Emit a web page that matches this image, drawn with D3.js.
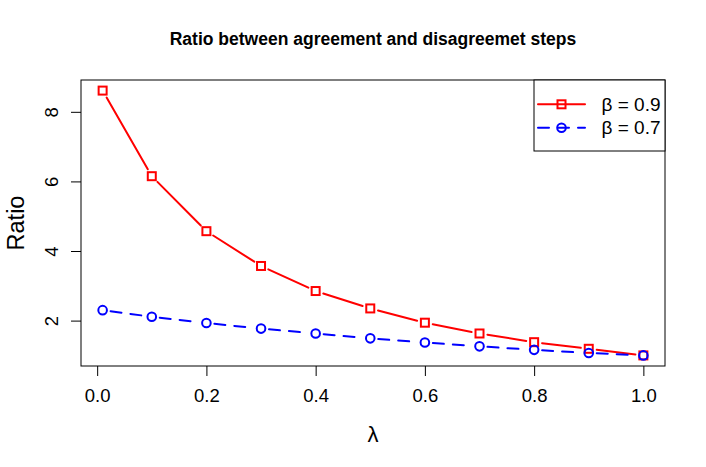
<!DOCTYPE html>
<html>
<head>
<meta charset="utf-8">
<script src="https://cdn.jsdelivr.net/npm/d3@7"></script>
<style>
  body { margin: 0; background: #fff; }
  svg text { font-family: "Liberation Sans", Arial, Helvetica, sans-serif; }
</style>
</head>
<body>
<div id="chart"></div>
<script>
// values
const lambda = [0.01, 0.1, 0.2, 0.3, 0.4, 0.5, 0.6, 0.7, 0.8, 0.9, 1.0]
const beta09 = [8.61, 6.15, 4.57, 3.57, 2.85, 2.35, 1.94, 1.63, 1.38, 1.19, 1.0]
const beta07 = [2.30, 2.11, 1.93, 1.77, 1.63, 1.49, 1.37, 1.26, 1.16, 1.07, 1.0]
const xTicks = [0, 0.2, 0.4, 0.6, 0.8, 1.0]
const yTicks = [2, 4, 6, 8]
const seriesNames = ["β = 0.9", "β = 0.7"]

const WIDTH = 706
const HEIGHT = 467
const MARGIN = { LEFT: 81, RIGHT: 41, TOP: 80, BOTTOM: 101 }
const TICK_FONT = "18.5px"

const svg = d3.select("#chart").append("svg")
  .attr("width", WIDTH)
  .attr("height", HEIGHT)

// R style 4% padding on the data range
function padded(vals) {
  const [lo, hi] = d3.extent(vals)
  const r = hi - lo
  return [lo - 0.04 * r, hi + 0.04 * r]
}

const x = d3.scaleLinear()
  .domain(padded(lambda))
  .range([MARGIN.LEFT, WIDTH - MARGIN.RIGHT])

const y = d3.scaleLinear()
  .domain(padded(beta09.concat(beta07)))
  .range([HEIGHT - MARGIN.BOTTOM, MARGIN.TOP])

const series = [
  { name: seriesNames[0], values: beta09, color: "#ff0000", dash: null, shape: "square" },
  { name: seriesNames[1], values: beta07, color: "#0000ff", dash: "11,9", shape: "circle" }
]

// title
svg.append("text")
  .attr("x", (x.range()[0] + x.range()[1]) / 2)
  .attr("y", 45)
  .attr("text-anchor", "middle")
  .attr("font-size", "17.5px")
  .attr("font-weight", "bold")
  .text("Ratio between agreement and disagreemet steps")

// axes
const xAxis = d3.axisBottom(x).tickValues(xTicks).tickFormat(d3.format(".1f"))
  .tickSizeInner(10).tickSizeOuter(0).tickPadding(13)
const gx = svg.append("g")
  .attr("transform", `translate(0, ${HEIGHT - MARGIN.BOTTOM})`)
  .call(xAxis)
gx.select(".domain").remove()
gx.selectAll("text").attr("font-size", TICK_FONT).attr("fill", "#000")
  .attr("font-family", "'Liberation Sans', Arial, sans-serif")

const yAxis = d3.axisLeft(y).tickValues(yTicks).tickFormat(d3.format("d"))
  .tickSizeInner(10).tickSizeOuter(0).tickPadding(12)
const gy = svg.append("g")
  .attr("transform", `translate(${MARGIN.LEFT}, 0)`)
  .call(yAxis)
gy.select(".domain").remove()
gy.selectAll(".tick text")
  .attr("font-size", TICK_FONT).attr("fill", "#000")
  .attr("font-family", "'Liberation Sans', Arial, sans-serif")
  .attr("x", null).attr("dy", null)
  .attr("text-anchor", "middle")
  .attr("transform", "translate(-30, 0) rotate(-90)")
  .attr("dominant-baseline", "central")

// axis titles
svg.append("text")
  .attr("x", (x.range()[0] + x.range()[1]) / 2)
  .attr("y", 442)
  .attr("text-anchor", "middle")
  .attr("font-size", "22px")
  .text("λ")

svg.append("text")
  .attr("transform", `translate(24, ${(y.range()[0] + y.range()[1]) / 2}) rotate(-90)`)
  .attr("text-anchor", "middle")
  .attr("font-size", "23.5px")
  .text("Ratio")

// plot box
svg.append("rect")
  .attr("x", x.range()[0])
  .attr("y", y.range()[1])
  .attr("width", x.range()[1] - x.range()[0])
  .attr("height", y.range()[0] - y.range()[1])
  .attr("fill", "none")
  .attr("stroke", "#000")
  .attr("stroke-width", 1)

// lines with gaps round the points (R type = "b")
const GAP = 8
series.forEach(s => {
  const pts = lambda.map((l, i) => [x(l), y(s.values[i])])
  const g = svg.append("g")
  for (let i = 0; i < pts.length - 1; i++) {
    const [x0, y0] = pts[i]
    const [x1, y1] = pts[i + 1]
    const len = Math.hypot(x1 - x0, y1 - y0)
    if (len <= 2 * GAP) continue
    const ux = (x1 - x0) / len, uy = (y1 - y0) / len
    g.append("line")
      .attr("x1", x0 + ux * GAP).attr("y1", y0 + uy * GAP)
      .attr("x2", x1 - ux * GAP).attr("y2", y1 - uy * GAP)
      .attr("stroke", s.color)
      .attr("stroke-width", 2)
      .attr("stroke-linecap", "round")
      .attr("stroke-dasharray", s.dash)
  }
  drawMarkers(g, pts, s)
})

function drawMarkers(g, pts, s) {
  if (s.shape === "square") {
    g.selectAll("rect.pt").data(pts).enter().append("rect")
      .attr("class", "pt")
      .attr("x", d => d[0] - 4).attr("y", d => d[1] - 4)
      .attr("width", 8).attr("height", 8)
      .attr("fill", "none").attr("stroke", s.color).attr("stroke-width", 2)
  } else {
    g.selectAll("circle.pt").data(pts).enter().append("circle")
      .attr("class", "pt")
      .attr("cx", d => d[0]).attr("cy", d => d[1]).attr("r", 4.3)
      .attr("fill", "none").attr("stroke", s.color).attr("stroke-width", 2)
  }
}

// legend
const legend = svg.append("g")
const LX0 = 534, LX1 = x.range()[1], LY0 = y.range()[1], LY1 = 151
legend.append("rect")
  .attr("x", LX0).attr("y", LY0)
  .attr("width", LX1 - LX0).attr("height", LY1 - LY0)
  .attr("fill", "#fff").attr("stroke", "#000").attr("stroke-width", 1)

series.forEach((s, i) => {
  const ly = 104.3 + i * 23.4
  legend.append("line")
    .attr("x1", 538).attr("x2", 585)
    .attr("y1", ly).attr("y2", ly)
    .attr("stroke", s.color).attr("stroke-width", 2)
    .attr("stroke-linecap", "round")
    .attr("stroke-dasharray", s.dash)
  drawMarkers(legend, [[561.5, ly]], s)
  legend.append("text")
    .attr("x", 601.5)
    .attr("y", ly)
    .attr("dominant-baseline", "central")
    .attr("font-size", "19px")
    .text(s.name)
})
</script>
</body>
</html>
